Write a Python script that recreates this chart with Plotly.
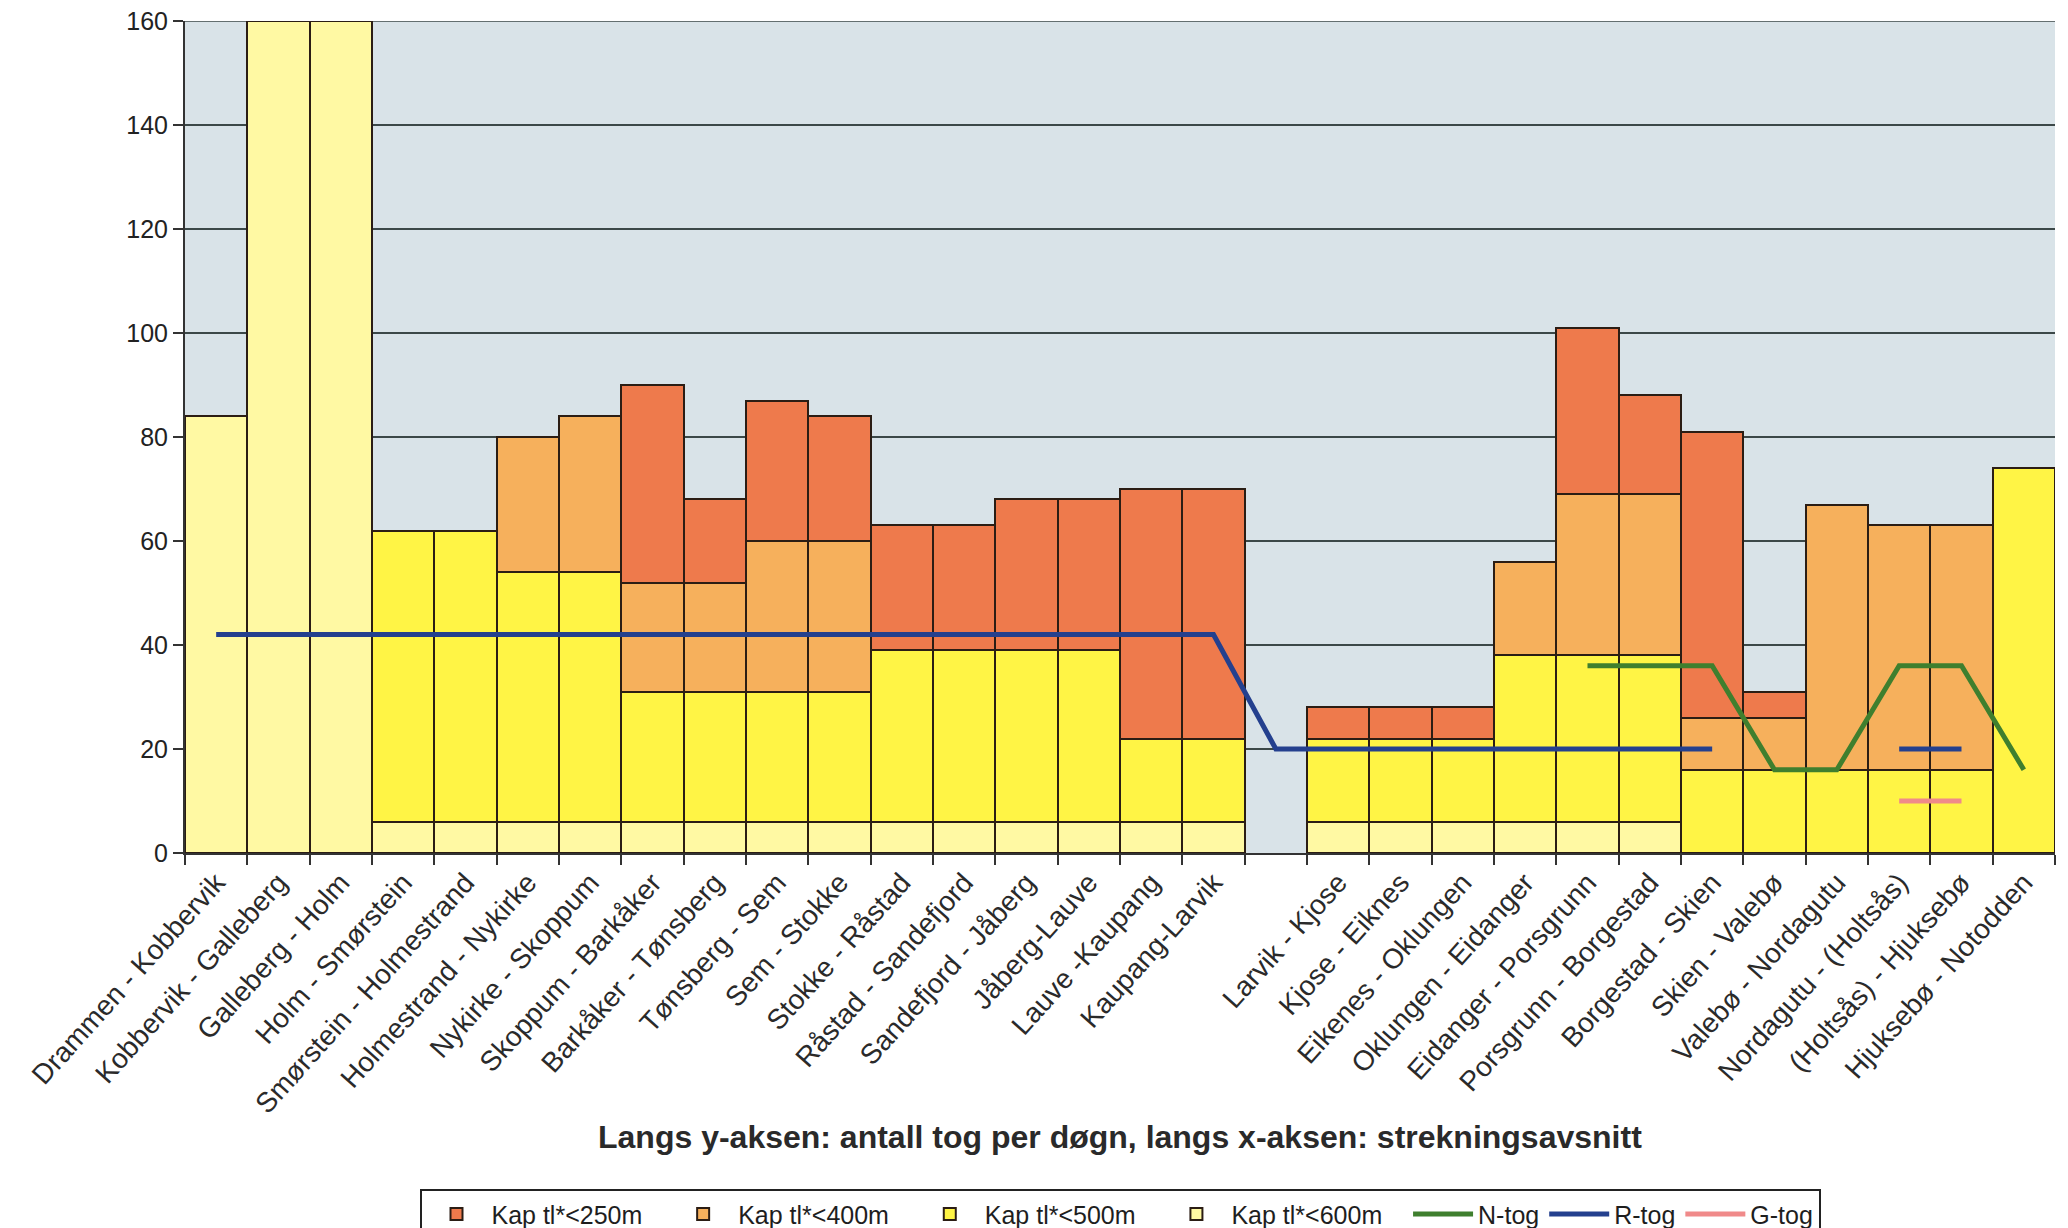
import plotly.graph_objects as go

categories = [
    "Drammen - Kobbervik", "Kobbervik - Galleberg", "Galleberg - Holm", "Holm - Smørstein",
    "Smørstein - Holmestrand", "Holmestrand - Nykirke", "Nykirke - Skoppum", "Skoppum - Barkåker",
    "Barkåker - Tønsberg", "Tønsberg - Sem", "Sem - Stokke", "Stokke - Råstad",
    "Råstad - Sandefjord", "Sandefjord - Jåberg", "Jåberg-Lauve", "Lauve -Kaupang",
    "Kaupang-Larvik", " ", "Larvik - Kjose", "Kjose - Eiknes", "Eikenes - Oklungen",
    "Oklungen - Eidanger", "Eidanger - Porsgrunn", "Porsgrunn - Borgestad", "Borgestad - Skien",
    "Skien - Valebø", "Valebø - Nordagutu", "Nordagutu - (Holtsås)", "(Holtsås) - Hjuksebø",
    "Hjuksebø - Notodden",
]

# stacked segment heights (bottom to top)
kap600 = [84, 160, 160, 6, 6, 6, 6, 6, 6, 6, 6, 6, 6, 6, 6, 6, 6, None,
          6, 6, 6, 6, 6, 6, None, None, None, None, None, None]
kap500 = [None, None, None, 56, 56, 48, 48, 25, 25, 25, 25, 33, 33, 33, 33, 16, 16, None,
          16, 16, 16, 32, 32, 32, 16, 16, 16, 16, 16, 74]
kap400 = [None, None, None, None, None, 26, 30, 21, 21, 29, 29, None, None, None, None, None, None, None,
          None, None, None, 18, 31, 31, 10, 10, 51, 47, 47, None]
kap250 = [None, None, None, None, None, None, None, 38, 16, 27, 24, 24, 24, 29, 29, 48, 48, None,
          6, 6, 6, None, 32, 19, 55, 5, None, None, None, None]

n_tog = [None] * 22 + [36, 36, 36, 16, 16, 36, 36, 16]
r_tog = [42] * 17 + [20] * 8 + [None, None, 20, 20, None]
g_tog = [None] * 27 + [10, 10, None]

y_ticks = [0, 20, 40, 60, 80, 100, 120, 140, 160]

FONT = "Liberation Sans, Arial, sans-serif"
BORDER = "#2b1d14"
PAD = "\u00a0\u00a0\u00a0"

fig = go.Figure()
bar_specs = [
    ("Kap tl*<600m", kap600, "#FFF9A3", 4),
    ("Kap tl*<500m", kap500, "#FFF445", 3),
    ("Kap tl*<400m", kap400, "#F6B05C", 2),
    ("Kap tl*<250m", kap250, "#EE7A4C", 1),
]
for name, vals, col, rank in bar_specs:
    fig.add_trace(go.Bar(
        x=categories, y=vals, name=name + PAD, legendrank=rank,
        marker=dict(color=col, line=dict(color=BORDER, width=2)),
    ))

line_specs = [
    ("N-tog", n_tog, "#3F7F2E", 5),
    ("R-tog", r_tog, "#24408E", 6),
    ("G-tog", g_tog, "#F08A8A", 7),
]
for name, vals, col, rank in line_specs:
    fig.add_trace(go.Scatter(
        x=categories, y=vals, name=name, legendrank=rank, mode="lines",
        line=dict(color=col, width=5), connectgaps=False,
    ))

fig.add_shape(type="line", xref="paper", yref="y", x0=0, x1=1, y0=160, y1=160,
              line=dict(color="#3c4848", width=1.5), layer="below")

fig.update_layout(
    width=2068, height=1228,
    barmode="stack", bargap=0,
    paper_bgcolor="white", plot_bgcolor="#D9E3E8",
    margin=dict(l=177, r=21, t=13, b=383, autoexpand=False),
    font=dict(family=FONT, size=26, color="#1e1e1e"),
    showlegend=True,
    legend=dict(
        orientation="h", traceorder="normal",
        x=0.5, xanchor="center", y=-0.404, yanchor="top",
        bgcolor="white", bordercolor="#222", borderwidth=2,
        font=dict(size=25), itemwidth=60, tracegroupgap=0,
    ),
    annotations=[dict(
        text="<b>Langs y-aksen: antall tog per døgn, langs x-aksen: strekningsavsnitt</b>",
        xref="paper", yref="paper", x=0.5, y=-0.341, xanchor="center", yanchor="middle",
        showarrow=False, font=dict(family=FONT, size=32, color="#2a2a2a"),
    )],
)
fig.update_xaxes(
    type="category", tickangle=-48, tickson="boundaries",
    ticks="outside", ticklen=10, tickcolor="#333", tickwidth=1.5,
    showline=True, linecolor="#333", linewidth=2, automargin=False,
    showgrid=False, tickfont=dict(size=28, color="#2a2a2a"),
)
fig.update_yaxes(
    range=[0, 160], tickmode="array", tickvals=y_ticks,
    ticks="outside", ticklen=10, tickcolor="#333", tickwidth=1.5,
    showline=True, linecolor="#333", linewidth=2, automargin=False,
    ticklabeloverflow="allow",
    showgrid=True, gridcolor="#3c4848", gridwidth=1.5,
    zeroline=False, tickfont=dict(size=25, color="#222"),
)

fig.write_html("out.html")
